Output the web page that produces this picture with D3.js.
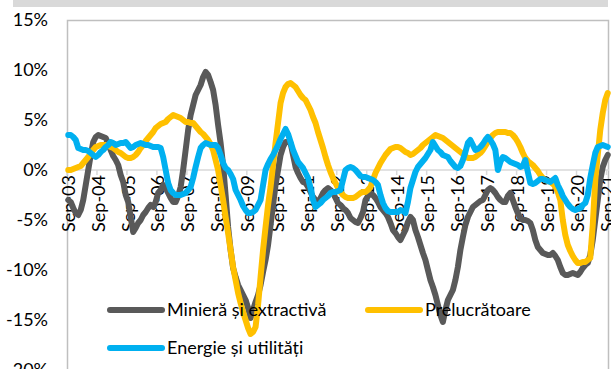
<!DOCTYPE html>
<html>
<head>
<meta charset="utf-8">
<script src="https://cdn.jsdelivr.net/npm/d3@7"></script>
<style>
        html, body { margin: 0; padding: 0; background: #fff; }
        svg { display: block; font-family: Lato, "Noto Sans", sans-serif; }
</style>
</head>
<body>
<svg id="chart" width="611" height="369"></svg>
<script>
// Annual growth rates (%), monthly from Sep-03 to Sep-21.
var seriesNames = ["Minieră și extractivă", "Prelucrătoare", "Energie și utilități"]

var tickLabels = ["Sep-03", "Sep-04", "Sep-05", "Sep-06", "Sep-07", "Sep-08", "Sep-09",
        "Sep-10", "Sep-11", "Sep-12", "Sep-13", "Sep-14", "Sep-15", "Sep-16", "Sep-17",
        "Sep-18", "Sep-19", "Sep-20", "Sep-21"]

var yTicks = [-20, -15, -10, -5, 0, 5, 10, 15]

var mining = [
        -3.0, -3.2, -3.8, -4.3, -4.5, -4.0, -3.0, -1.5, 0.0, 1.5, 2.8, 3.3,
        3.5, 3.4, 3.3, 3.2, 2.6, 2.0, 1.4, 1.0, 0.5, -0.5, -1.2, -2.5,
        -3.2, -4.7, -6.2, -5.8, -5.3, -5.0, -4.5, -4.2, -3.8, -3.5, -3.7, -3.2,
        -2.3, -2.0, -1.5, -1.8, -2.3, -2.8, -3.2, -3.2, -2.6, -1.7, 0.0, 2.0,
        4.0, 5.5, 6.5, 7.5, 8.0, 8.5, 9.3, 9.8, 9.5, 8.8, 8.0, 6.5,
        4.5, 2.7, 0.5, -2.5, -5.7, -8.0, -9.8, -10.7, -11.5, -12.0, -12.5, -13.0,
        -13.8, -14.8, -14.0, -13.2, -12.5, -11.5, -10.2, -9.0, -7.5, -5.5, -3.5, -1.5,
        0.0, 1.5, 2.3, 2.8, 2.8, 2.7, 1.5, 0.3, -0.3, -0.8, -1.2, -1.3,
        -1.7, -2.2, -2.7, -3.0, -3.3, -2.8, -2.3, -2.0, -1.8, -2.0, -2.3, -2.8,
        -3.3, -3.5, -3.8, -4.0, -4.3, -4.8, -5.0, -5.2, -5.3, -4.8, -4.2, -3.0,
        -2.6, -2.3, -2.5, -2.8, -3.2, -3.7, -4.0, -4.3, -4.7, -5.3, -6.0, -6.3,
        -6.7, -7.0, -6.5, -6.0, -5.2, -4.7, -5.0, -6.0, -6.7, -7.5, -8.3, -9.0,
        -10.0, -11.0, -11.7, -12.5, -13.5, -14.5, -15.2, -14.0, -13.0, -12.5, -12.0, -11.0,
        -9.7, -8.0, -6.7, -5.5, -4.7, -4.2, -3.7, -3.5, -3.3, -3.1, -3.0, -2.5,
        -2.0, -1.8, -2.0, -2.3, -2.7, -3.0, -3.2, -3.2, -2.6, -2.3, -3.0, -3.7,
        -4.3, -4.8, -5.0, -5.0, -5.1, -5.3, -6.0, -7.0, -7.7, -8.0, -8.3, -8.4,
        -8.5, -8.5, -8.3, -8.6, -9.0, -9.7, -10.3, -10.5, -10.5, -10.4, -10.3, -10.4,
        -10.5, -10.2, -9.8, -9.5, -9.3, -8.5, -7.0, -5.0, -3.0, -1.0, 0.3, 1.0,
        1.5]

var manufacturing = [
        0.0, 0.0, 0.1, 0.2, 0.3, 0.4, 0.7, 1.0, 1.3, 1.7, 2.0, 2.3,
        2.4, 2.5, 2.5, 2.5, 2.4, 2.3, 2.2, 2.0, 1.8, 1.7, 1.5, 1.3,
        1.2, 1.2, 1.3, 1.5, 1.8, 2.2, 2.5, 2.9, 3.2, 3.5, 3.8, 4.2,
        4.4, 4.6, 4.7, 4.8, 5.1, 5.3, 5.5, 5.4, 5.3, 5.2, 5.0, 4.8,
        4.8, 4.7, 4.7, 4.4, 4.1, 3.8, 3.6, 3.3, 3.0, 2.6, 2.0, 1.0,
        0.0, -1.5, -3.0, -4.7, -6.3, -8.0, -9.7, -11.0, -12.3, -13.3, -14.2, -15.0,
        -15.8, -16.4, -16.2, -15.7, -13.5, -10.7, -8.0, -5.7, -3.5, -1.7, 0.5, 2.7,
        4.7, 6.7, 7.7, 8.3, 8.6, 8.7, 8.5, 8.3, 7.9, 7.5, 7.2, 7.0,
        6.5, 6.0, 5.3, 4.7, 3.8, 3.0, 2.2, 1.3, 0.5, -0.2, -0.8, -1.3,
        -1.8, -2.2, -2.5, -2.7, -2.8, -2.8, -2.8, -2.7, -2.5, -2.3, -2.2, -2.2,
        -2.0, -1.7, -1.0, -0.3, 0.2, 0.7, 1.1, 1.5, 1.8, 2.1, 2.2, 2.3,
        2.3, 2.2, 2.0, 1.8, 1.7, 1.5, 1.6, 1.8, 2.0, 2.2, 2.5, 2.7,
        2.9, 3.1, 3.3, 3.5, 3.4, 3.3, 3.2, 3.0, 2.8, 2.6, 2.4, 2.2,
        2.0, 1.8, 1.6, 1.4, 1.2, 1.2, 1.2, 1.3, 1.5, 1.7, 2.0, 2.4,
        2.8, 3.2, 3.5, 3.7, 3.8, 3.8, 3.8, 3.8, 3.7, 3.7, 3.5, 3.2,
        2.8, 2.3, 1.7, 1.2, 0.9, 0.7, 0.5, 0.2, -0.1, -0.5, -0.8, -1.0,
        -1.1, -1.2, -1.4, -1.6, -2.2, -3.0, -5.0, -6.5, -7.5, -8.1, -8.6, -9.0,
        -9.3, -9.3, -9.2, -9.2, -9.0, -8.8, -5.5, -1.0, 1.5, 4.0, 5.7, 7.0,
        7.7]

var energy = [
        3.5, 3.5, 3.3, 3.0, 2.2, 2.1, 2.0, 2.0, 1.9, 1.7, 1.5, 1.3,
        1.5, 1.8, 2.0, 2.3, 2.5, 2.8, 2.7, 2.5, 2.6, 2.7, 2.7, 2.8,
        2.5, 2.2, 2.3, 2.5, 2.6, 2.7, 2.6, 2.5, 2.5, 2.4, 2.3, 2.3,
        2.3, 2.2, 1.3, 0.0, -1.3, -2.0, -2.3, -2.5, -2.5, -2.5, -2.4, -2.3,
        -2.0, -1.7, -0.8, 0.3, 1.3, 2.2, 2.5, 2.7, 2.6, 2.5, 2.5, 2.5,
        2.2, 1.5, 0.7, 0.2, 0.0, -0.4, -0.9, -2.0, -2.5, -3.0, -3.6, -4.0,
        -4.3, -4.3, -4.2, -4.0, -3.5, -3.0, -1.5, 0.0, 0.6, 1.1, 1.5, 2.0,
        2.5, 3.1, 3.6, 4.1, 3.6, 2.8, 2.0, 1.4, 0.8, 0.5, 0.2, -0.3,
        -0.8, -1.8, -3.0, -3.7, -3.5, -3.3, -3.0, -2.8, -2.6, -2.3, -2.2, -2.2,
        -2.1, -2.0, -1.0, 0.0, 0.2, 0.3, 0.2, 0.0, -0.3, -0.6, -0.7, -0.7,
        -0.8, -0.9, -1.0, -1.2, -1.5, -2.5, -3.3, -3.8, -4.1, -4.2, -4.2, -4.2,
        -4.2, -4.0, -4.1, -4.3, -3.2, -1.8, -1.0, -0.2, 0.3, 0.6, 0.9, 1.2,
        1.6, 2.0, 2.8, 2.4, 2.0, 1.8, 1.5, 1.4, 1.3, 0.9, 0.6, 0.3,
        0.2, 0.4, 1.0, 1.8, 2.7, 3.0, 2.5, 2.0, 2.1, 2.3, 2.6, 3.0,
        3.3, 3.0, 2.6, 2.0, 0.0, 0.8, 1.3, 1.2, 1.0, 0.8, 0.7, 0.6,
        0.5, 0.3, 0.4, 1.0, -0.2, -1.3, -1.4, -1.3, -1.1, -0.9, -0.9, -1.0,
        -1.1, -1.2, -1.0, -0.8, -1.5, -2.0, -2.6, -3.0, -3.4, -3.7, -3.9, -4.0,
        -3.9, -3.8, -3.5, -3.3, -2.5, -0.8, 0.5, 1.7, 2.3, 2.4, 2.5, 2.4,
        2.3]

var colors = ["#595959", "#ffc000", "#00b0f0"]

var Chart = (function (d3) {

        "use strict";

        var svg = d3.select('#chart')
        var plot = { left: 67, right: 609, top: 20, bottom: 370 }
        var fontSize = 18

        // One category per month, the first one is Sep-03.
        var months = d3.range(mining.length)

        var x = d3.scaleBand()
                .domain(months)
                .range([plot.left, plot.right])
                .padding(0)

        var y = d3.scaleLinear()
                .domain([-20, 15])
                .range([plot.bottom, plot.top])

        // Gray strip on top of the picture
        svg.append('rect')
                .attr('x', 13)
                .attr('y', 0)
                .attr('width', 595)
                .attr('height', 7)
                .attr('fill', '#d9d9d9')

        // Plot area border
        svg.append('rect')
                .attr('x', plot.left + 0.5)
                .attr('y', plot.top + 0.5)
                .attr('width', plot.right - plot.left - 1)
                .attr('height', plot.bottom - plot.top)
                .attr('fill', 'none')
                .attr('stroke', '#bfbfbf')
                .attr('stroke-width', 1.5)

        // Y axis labels
        var yAxis = d3.axisLeft(y)
                .tickValues(yTicks)
                .tickFormat(function (d) { return d + '%' })
                .tickSize(0)
                .tickPadding(19)

        svg.append('g')
                .attr('transform', 'translate(' + plot.left + ',0)')
                .call(yAxis)
                .call(function (g) { g.select('.domain').remove() })
                .selectAll('text')
                .attr('font-family', 'Lato')
                .attr('font-size', fontSize)
                .attr('fill', '#000')

        // Category axis on the zero line
        var labelled = months.filter(function (m) { return m % 12 === 0 })
        var zero = y(0)

        svg.append('line')
                .attr('x1', plot.left)
                .attr('x2', plot.right)
                .attr('y1', zero)
                .attr('y2', zero)
                .attr('stroke', '#d9d9d9')
                .attr('stroke-width', 1.5)

        svg.append('g')
                .selectAll('line')
                .data(labelled)
                .enter()
                .append('line')
                .attr('x1', function (m) { return x(m) })
                .attr('x2', function (m) { return x(m) })
                .attr('y1', zero)
                .attr('y2', zero + 5)
                .attr('stroke', '#d9d9d9')
                .attr('stroke-width', 1.5)

        svg.append('g')
                .selectAll('text')
                .data(labelled)
                .enter()
                .append('text')
                .attr('transform', function (m) {
                        return 'translate(' + (x(m) + x.bandwidth() / 2) + ',' + (zero + 5) + ') rotate(-90)'
                })
                .attr('dy', '0.35em')
                .attr('text-anchor', 'end')
                .attr('font-size', fontSize)
                .attr('fill', '#000')
                .text(function (m, i) { return tickLabels[i] })

        // Lines
        var line = d3.line()
                .x(function (d, i) { return x(i) + x.bandwidth() / 2 })
                .y(function (d) { return y(d) })

        svg.append('g')
                .selectAll('path')
                .data([mining, manufacturing, energy])
                .enter()
                .append('path')
                .attr('d', line)
                .attr('fill', 'none')
                .attr('stroke', function (d, i) { return colors[i] })
                .attr('stroke-width', 6)
                .attr('stroke-linejoin', 'round')
                .attr('stroke-linecap', 'round')

        // Legend: two columns, two rows
        var legend = svg.append('g')
                .selectAll('g')
                .data(seriesNames)
                .enter()
                .append('g')
                .attr('transform', function (d, i) {
                        var col = i === 1 ? 1 : 0
                        var row = i === 2 ? 1 : 0
                        return 'translate(' + (110 + col * 258) + ',' + (310 + row * 38) + ')'
                })

        legend.append('line')
                .attr('x1', 0)
                .attr('x2', 52)
                .attr('stroke', function (d, i) { return colors[i] })
                .attr('stroke-width', 6)
                .attr('stroke-linecap', 'round')

        legend.append('text')
                .attr('x', 57)
                .attr('dy', '0.35em')
                .attr('font-size', fontSize)
                .attr('fill', '#000')
                .text(function (d) { return d })

        return svg

})(d3);
</script>
</body>
</html>
